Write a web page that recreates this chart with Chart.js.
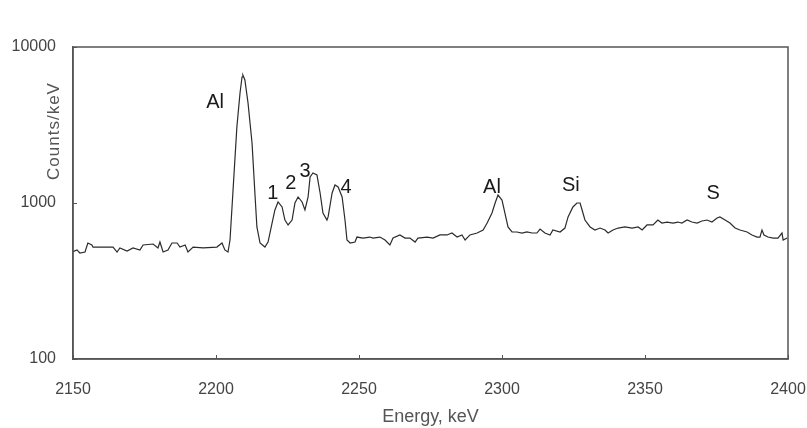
<!DOCTYPE html>
<html>
<head>
<meta charset="utf-8">
<script src="https://cdn.jsdelivr.net/npm/chart.js@4/dist/chart.umd.min.js"></script>
<style>
html,body{margin:0;padding:0;background:#fff;}
canvas{display:block;}
</style>
</head>
<body>
<canvas id="c" width="807" height="428"></canvas>
<script>
// Energy (keV) of each sampled point of the spectrum
const energies = [2150.0,2151.4,2152.4,2154.2,2155.2,2156.6,2157.0,2160.5,2164.0,2165.4,2166.4,2168.9,2171.0,2173.4,2174.5,2178.0,2179.7,2180.4,2181.5,2183.2,2184.6,2186.4,2187.4,2189.2,2190.2,2192.0,2195.5,2200.3,2202.1,2203.1,2204.2,2204.9,2205.9,2207.3,2208.4,2209.1,2209.4,2210.1,2211.2,2212.6,2213.6,2214.3,2215.4,2217.1,2218.2,2219.6,2220.6,2221.7,2223.1,2224.1,2225.2,2226.6,2227.6,2228.7,2230.1,2231.1,2232.2,2232.9,2233.9,2235.3,2236.4,2237.4,2238.8,2239.2,2240.6,2241.6,2242.7,2244.1,2245.1,2245.8,2246.9,2248.6,2249.3,2251.4,2253.8,2254.9,2257.3,2259.1,2260.8,2261.9,2264.3,2266.1,2267.8,2269.6,2270.6,2273.8,2275.9,2278.3,2280.8,2282.5,2284.3,2286.0,2287.1,2288.8,2291.3,2293.4,2294.8,2296.5,2297.6,2298.6,2300.0,2301.0,2302.1,2303.5,2305.2,2307.0,2308.7,2310.5,2312.2,2313.3,2315.0,2316.8,2317.8,2320.3,2322.0,2323.1,2324.8,2326.2,2327.3,2328.0,2329.0,2330.8,2332.5,2334.3,2336.0,2337.1,2338.8,2340.6,2343.0,2345.5,2347.6,2349.0,2350.7,2352.8,2354.5,2355.9,2357.7,2359.8,2361.5,2362.9,2364.7,2366.4,2368.2,2369.9,2371.7,2373.4,2375.2,2376.2,2378.0,2379.7,2381.5,2383.2,2385.7,2387.4,2389.2,2390.2,2390.9,2391.6,2393.0,2394.8,2396.5,2397.9,2398.3,2399.7];
// Counts per keV at those energies
const counts = [487,500,478,485,554,538,522,522,522,485,515,492,515,500,538,546,515,562,485,500,554,554,522,538,485,522,515,522,554,500,485,579,1159,3071,5071,6423,6615,6145,4375,2424,1159,702,554,522,562,744,902,1015,943,778,723,778,1000,1093,1015,902,1093,1468,1557,1512,1159,863,778,814,1159,1304,1266,1093,778,579,554,562,605,596,605,596,605,579,538,596,624,596,596,562,596,605,596,624,624,642,605,624,579,624,642,671,744,863,1000,1125,1045,863,702,652,652,642,652,642,642,681,642,624,671,652,691,814,943,1000,1000,902,778,702,671,691,671,642,671,691,702,691,702,671,723,723,778,744,755,744,755,744,778,755,744,767,778,755,801,814,778,744,691,671,652,624,605,605,671,624,605,596,596,642,579,596];
// Peak annotations
const peakLabels = ["Al","1","2","3","4","Al","Si","S"];
const peakEnergies = [2199.7,2219.9,2226.2,2231.1,2245.5,2296.5,2324.1,2373.8];
const peakCounts = [4436,1159,1343,1582,1266,1266,1304,1159];
// Axis ticks
const xTicks = [2150,2200,2250,2300,2350,2400];
const yTicks = [100,1000,10000];
const xTitle = "Energy, keV";
const yTitle = "Counts/keV";

const points = energies.map((e,i)=>({x:e,y:counts[i]}));
const FONT = '"Liberation Sans", Arial, sans-serif';

const decor = {
  id:'decor',
  afterDatasetsDraw(chart){
    const {ctx, chartArea:a, scales:{x,y}} = chart;
    ctx.save();
    // frame
    ctx.strokeStyle='#555';
    ctx.lineWidth=1.5;
    ctx.strokeRect(a.left,a.top,a.right-a.left,a.bottom-a.top);
    // inside ticks
    ctx.lineWidth=1;
    ctx.beginPath();
    xTicks.forEach(v=>{const px=Math.round(x.getPixelForValue(v))+0.5;ctx.moveTo(px,a.bottom);ctx.lineTo(px,a.bottom-4);});
    yTicks.forEach(v=>{const py=Math.round(y.getPixelForValue(v))+0.5;ctx.moveTo(a.left,py);ctx.lineTo(a.left+4,py);});
    ctx.stroke();
    // peak labels
    ctx.fillStyle='#1a1a1a';
    ctx.font='20px '+FONT;
    ctx.textAlign='center';
    ctx.textBaseline='middle';
    peakLabels.forEach((t,i)=>{
      ctx.fillText(t, x.getPixelForValue(peakEnergies[i]), y.getPixelForValue(peakCounts[i]));
    });
    // y title
    ctx.fillStyle='#555';
    ctx.font='17px '+FONT;
    try{ctx.letterSpacing='1px';}catch(e){}
    ctx.translate(54, 131);
    ctx.rotate(-Math.PI/2);
    ctx.fillText(yTitle,0,0);
    ctx.restore();
  }
};

new Chart(document.getElementById('c'), {
  type:'line',
  data:{datasets:[{data:points,borderColor:'#2b2b2b',borderWidth:1.2,pointRadius:0,tension:0,fill:false}]},
  options:{
    responsive:false,
    animation:false,
    devicePixelRatio:1,
    layout:{padding:{left:0,top:47,right:0,bottom:0}},
    plugins:{legend:{display:false},tooltip:{enabled:false}},
    scales:{
      x:{
        type:'linear',min:2150,max:2400,
        afterBuildTicks(s){s.ticks=xTicks.map(v=>({value:v}));},
        afterFit(s){s.height=69;s.paddingRight=19;s.paddingLeft=0;},
        grid:{display:false,drawTicks:false},
        border:{display:true,color:'#555',width:1.5},
        ticks:{padding:21,color:'#444',font:{family:FONT,size:16},maxRotation:0,autoSkip:false,callback:v=>String(v)},
        title:{display:true,text:xTitle,color:'#555',font:{family:FONT,size:18},padding:{top:0,bottom:0}}
      },
      y:{
        type:'logarithmic',min:100,max:10000,
        afterBuildTicks(s){s.ticks=yTicks.map(v=>({value:v}));},
        afterFit(s){s.width=73;},
        grid:{display:false,drawTicks:false},
        border:{display:true,color:'#555',width:1.5},
        ticks:{padding:17,color:'#444',font:{family:FONT,size:16},callback:v=>String(v),autoSkip:false}
      }
    }
  },
  plugins:[decor]
});
</script>
</body>
</html>
